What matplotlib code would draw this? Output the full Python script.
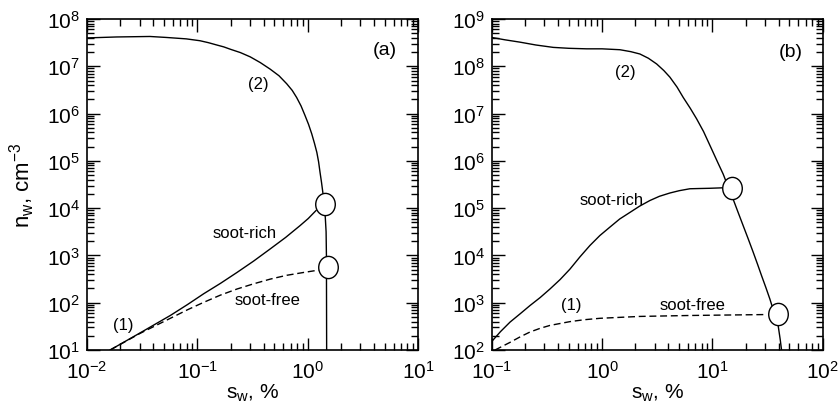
import numpy as np
import matplotlib
matplotlib.use('Agg')
import matplotlib.pyplot as plt
from matplotlib.path import Path
from matplotlib.ticker import LogLocator

plt.rcParams['font.family'] = ['Liberation Sans', 'DejaVu Sans']
plt.rcParams['mathtext.fontset'] = 'custom'
plt.rcParams['mathtext.rm'] = 'Liberation Sans'
plt.rcParams['mathtext.it'] = 'Liberation Sans:italic'
plt.rcParams['mathtext.default'] = 'regular'

# ---- panel (a): s_w in %, n_w in cm^-3 ----
a_s2 = [0.0100, 0.0186, 0.0372, 0.0525, 0.0794, 0.1057, 0.1259, 0.150, 0.1738, 0.1995,
        0.2455, 0.302, 0.3715, 0.457, 0.5495, 0.6457, 0.7244, 0.7943, 0.871, 0.946,
        1.019, 1.089, 1.153, 1.211, 1.256, 1.294, 1.334, 1.371, 1.413, 1.445,
        1.469, 1.479, 1.486]
a_n2 = [3.98e7, 4.17e7, 4.27e7, 4.07e7, 3.80e7, 3.47e7, 3.16e7, 2.82e7, 2.57e7, 2.29e7,
        1.95e7, 1.58e7, 1.20e7, 8.71e6, 6.31e6, 4.27e6, 3.09e6, 2.19e6, 1.45e6, 9.12e5,
        5.89e5, 3.72e5, 2.34e5, 1.51e5, 9.55e4, 5.75e4, 3.55e4, 2.19e4, 1.26e4, 6.31e3,
        3.16e3, 1.0e3, 10]

a_s_rich = [0.0162, 0.0302, 0.0569, 0.0813, 0.1143, 0.1622, 0.229, 0.3236, 0.459,
            0.631, 0.853, 1.012, 1.191]
a_n_rich = [10, 22.9, 53.7, 91.2, 155, 257, 437, 759, 1380,
            2400, 4270, 6030, 8910]

a_s_free = [0.0162, 0.0302, 0.0569, 0.0813, 0.1143, 0.1622, 0.229, 0.3236, 0.459,
            0.6457, 0.923, 1.259]
a_n_free = [10, 22.4, 46.8, 70.8, 102, 145, 195, 251, 316,
            380, 437, 490]

a_s_cross = [1.43, 1.54]
a_n_cross = [1.2e4, 575]

# ---- panel (b) ----
b_s2 = [0.100, 0.1318, 0.1803, 0.2512, 0.3614, 0.5012, 0.7244, 1.000, 1.452, 1.820,
        2.203, 2.630, 3.126, 3.631, 4.121, 4.786, 5.445, 6.310, 7.194, 8.318,
        9.840, 11.22, 12.53, 13.80, 15.42, 17.18, 19.01, 21.13, 23.44, 25.70,
        27.93, 30.55, 33.19, 36.31, 39.45, 41.21, 42.36]
b_n2 = [4.07e8, 3.63e8, 3.24e8, 2.82e8, 2.51e8, 2.40e8, 2.34e8, 2.34e8, 2.24e8, 2.04e8,
        1.82e8, 1.48e8, 1.12e8, 8.13e7, 5.89e7, 3.63e7, 2.19e7, 1.29e7, 7.76e6, 4.17e6,
        1.78e6, 9.12e5, 5.25e5, 2.95e5, 1.55e5, 7.94e4, 4.27e4, 2.24e4, 1.17e4, 6.46e3,
        3.72e3, 2.09e3, 1.20e3, 617, 331, 166, 100]

b_s_rich = [0.100, 0.1202, 0.1466, 0.182, 0.2223, 0.2754, 0.3373, 0.4169, 0.5117, 0.631,
            0.7762, 0.955, 1.180, 1.445, 1.791, 2.188, 2.716, 3.311, 4.121, 5.012,
            6.252, 7.586, 9.484, 12.30]
b_n_rich = [151, 245, 389, 589, 871, 1290, 1950, 3090, 5130, 9330,
            1.62e4, 2.63e4, 3.98e4, 5.89e4, 8.13e4, 1.10e5, 1.45e5, 1.78e5, 2.09e5, 2.34e5,
            2.57e5, 2.60e5, 2.63e5, 2.69e5]

b_s_free = [0.1072, 0.1466, 0.182, 0.2223, 0.2754, 0.3373, 0.5117, 0.6918, 0.957,
            1.445, 2.203, 6.252, 30.97]
b_n_free = [100, 145, 191, 240, 288, 331, 398, 437, 468,
            490, 513, 537, 562]

b_s_cross = [15.2, 39.2]
b_n_cross = [2.7e5, 575]

# slightly tall oval for the crossing points
circ = Path.unit_circle()
oval = Path(circ.vertices * np.array([0.88, 1.0]), circ.codes)


def setup_axes(ax, xlim, ylim):
    ax.set_xscale('log')
    ax.set_yscale('log')
    ax.set_xlim(xlim)
    ax.set_ylim(ylim)
    for axis in (ax.xaxis, ax.yaxis):
        axis.set_major_locator(LogLocator(base=10, numticks=20))
        axis.set_minor_locator(LogLocator(base=10, subs=np.arange(2, 10), numticks=20))
    ax.tick_params(which='both', direction='in', top=True, right=True,
                   labelsize=15, width=1.0)
    ax.tick_params(which='major', length=9)
    ax.tick_params(which='minor', length=5)
    ax.tick_params(axis='x', pad=7)
    ax.tick_params(axis='y', pad=5)
    for sp in ax.spines.values():
        sp.set_linewidth(1.2)
    ax.set_xlabel(r's$_{w}$, %', fontsize=15)
    ax.xaxis.set_label_coords(0.5, -0.095)


def draw_panel(ax, s2, n2, s_rich, n_rich, s_free, n_free, s_x, n_x):
    ax.plot(s2, n2, color='black', lw=1.0)
    ax.plot(s_rich, n_rich, color='black', lw=1.0)
    ax.plot(s_free, n_free, color='black', lw=1.0, ls=(0, (5, 2.7)))
    ax.plot(s_x, n_x, ls='none', marker=oval, ms=16, mfc='white',
            mec='black', mew=1.0, zorder=5)


fig = plt.figure(figsize=(8.4, 4.14), dpi=100)
ax1 = fig.add_axes([87 / 840, 63 / 414, 331 / 840, 331 / 414])
ax2 = fig.add_axes([491.7 / 840, 63 / 414, 331 / 840, 331 / 414])

setup_axes(ax1, (1e-2, 1e1), (1e1, 1e8))
draw_panel(ax1, a_s2, a_n2, a_s_rich, a_n_rich, a_s_free, a_n_free, a_s_cross, a_n_cross)
ax1.set_ylabel(r'n$_{w}$, cm$^{-3}$', fontsize=16)
ax1.yaxis.set_label_coords(-0.151, 0.5)
ax1.text(0.357, 4.3e6, '(2)', fontsize=12, ha='center', va='center')
ax1.text(0.267, 3.0e3, 'soot-rich', fontsize=12, ha='center', va='center')
ax1.text(0.435, 115, 'soot-free', fontsize=12, ha='center', va='center')
ax1.text(0.0215, 35, '(1)', fontsize=12, ha='center', va='center')
ax1.text(5.04, 2.3e7, '(a)', fontsize=14, ha='center', va='center')

setup_axes(ax2, (1e-1, 1e2), (1e2, 1e9))
draw_panel(ax2, b_s2, b_n2, b_s_rich, b_n_rich, b_s_free, b_n_free, b_s_cross, b_n_cross)
ax2.text(1.61, 7.8e7, '(2)', fontsize=12, ha='center', va='center')
ax2.text(1.22, 1.5e5, 'soot-rich', fontsize=12, ha='center', va='center')
ax2.text(0.531, 900, '(1)', fontsize=12, ha='center', va='center')
ax2.text(6.6, 900, 'soot-free', fontsize=12, ha='center', va='center')
ax2.text(51.4, 2.1e8, '(b)', fontsize=14, ha='center', va='center')

fig.savefig('out.png', dpi=100)
